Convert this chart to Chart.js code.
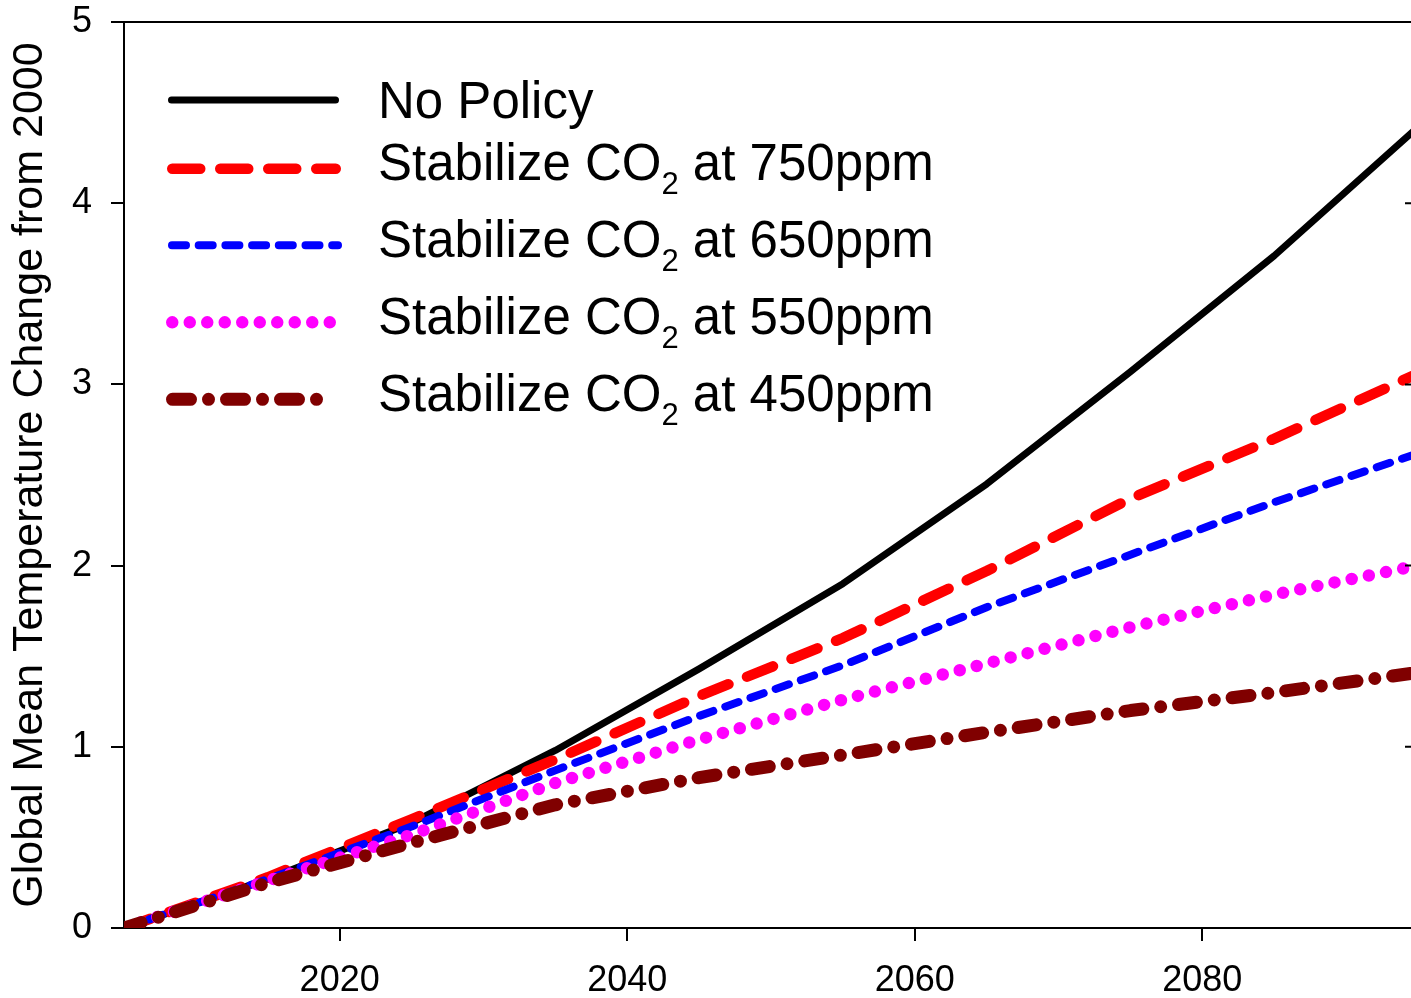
<!DOCTYPE html>
<html>
<head>
<meta charset="utf-8">
<title>Global Mean Temperature Change</title>
<script src="https://cdn.jsdelivr.net/npm/chart.js@4"></script>
<style>
  html, body { margin: 0; padding: 0; background: #fff; overflow: hidden; }
  #wrap { width: 1411px; height: 998px; overflow: hidden; position: relative; }
  canvas { display: block; }
</style>
</head>
<body>
<div id="wrap"><canvas id="c" width="1422" height="998"></canvas></div>
<script>
// Scenario years and projected warming (deg C relative to 2000)
const years      = [2005, 2015, 2025, 2035, 2045, 2055, 2065, 2075, 2085, 2095];
const noPolicy   = [0, 0.27, 0.58, 0.98, 1.43, 1.90, 2.45, 3.07, 3.71, 4.42];
const stab750    = [0, 0.28, 0.60, 0.93, 1.28, 1.60, 1.97, 2.37, 2.70, 3.06];
const stab650    = [0, 0.27, 0.56, 0.87, 1.17, 1.45, 1.77, 2.06, 2.35, 2.62];
const stab550    = [0, 0.26, 0.515, 0.80, 1.04, 1.26, 1.46, 1.66, 1.84, 2.00];
const stab450    = [0, 0.25, 0.47, 0.68, 0.83, 0.955, 1.08, 1.20, 1.30, 1.41];

const seriesNames = [
  'No Policy',
  'Stabilize CO₂ at 750ppm',
  'Stabilize CO₂ at 650ppm',
  'Stabilize CO₂ at 550ppm',
  'Stabilize CO₂ at 450ppm'
];
const xTickValues = [2020, 2040, 2060, 2080];
const yTickValues = [0, 1, 2, 3, 4, 5];
const yAxisTitle = 'Global Mean Temperature Change from 2000';

const FONT = "'Liberation Sans', Arial, Helvetica, sans-serif";
Chart.defaults.font.family = FONT;
Chart.defaults.color = '#000';

const styles = [
  { color: '#000000', width: 7,    dash: [] },
  { color: '#ff0000', width: 10.5, dash: [28, 20] },
  { color: '#0000ff', width: 8,    dash: [14, 12.7] },
  { color: '#ff00ff', width: 12.5, dash: [0, 17.5] },
  { color: '#800000', width: 13,   dash: [18, 18, 0, 18] }
];
const seriesValues = [noPolicy, stab750, stab650, stab550, stab450];

const datasets = seriesValues.map((vals, i) => ({
  label: seriesNames[i],
  data: years.map((y, k) => ({ x: y, y: vals[k] })),
  borderColor: styles[i].color,
  borderWidth: styles[i].width,
  borderDash: styles[i].dash,
  borderCapStyle: 'round',
  borderJoinStyle: 'round',
  pointRadius: 0,
  tension: 0,
  fill: false
})).reverse(); // first series painted last (on top)

// Frame (top + right) with inward ticks on the right, plus the legend block
const framePlugin = {
  id: 'frameAndLegend',
  afterDraw(chart) {
    const ctx = chart.ctx;
    const a = chart.chartArea;
    const ys = chart.scales.y;
    ctx.save();
    ctx.strokeStyle = '#000';
    ctx.lineWidth = 2;
    ctx.lineCap = 'butt';
    ctx.beginPath();
    ctx.moveTo(a.left - 1, a.top);
    ctx.lineTo(a.right, a.top);
    ctx.moveTo(a.right, a.top);
    ctx.lineTo(a.right, a.bottom);
    yTickValues.forEach(v => {
      const py = ys.getPixelForValue(v);
      ctx.moveTo(a.right, py);
      ctx.lineTo(a.right - 13, py);
    });
    ctx.stroke();
    ctx.restore();

    // Legend
    const rowsLine = [100, 168.7, 245.3, 322.3, 399.3];
    const rowsText = [118, 180, 257, 334, 411];
    const lineEnds = [[168, 339], [167, 341], [168, 342], [166, 338], [166, 324]];
    seriesNames.forEach((name, i) => {
      const st = styles[i];
      const [x0, x1] = lineEnds[i];
      ctx.save();
      ctx.strokeStyle = st.color;
      ctx.lineWidth = st.width;
      ctx.lineCap = 'round';
      ctx.setLineDash(st.dash);
      ctx.beginPath();
      ctx.moveTo(x0 + st.width / 2, rowsLine[i]);
      ctx.lineTo(x1 - st.width / 2, rowsLine[i]);
      ctx.stroke();
      ctx.restore();

      ctx.save();
      ctx.fillStyle = '#000';
      ctx.textBaseline = 'alphabetic';
      ctx.textAlign = 'left';
      ctx.translate(378, rowsText[i]);
      const parts = name.split('₂');
      let x = 0;
      parts.forEach((p, k) => {
        ctx.font = '51px ' + FONT;
        ctx.fillText(p, x, 0);
        x += ctx.measureText(p).width;
        if (k < parts.length - 1) {
          ctx.font = '31px ' + FONT;
          ctx.fillText('2', x, 14);
          x += ctx.measureText('2').width;
        }
      });
      ctx.restore();
    });
  }
};

new Chart(document.getElementById('c'), {
  type: 'line',
  data: { datasets },
  plugins: [framePlugin],
  options: {
    responsive: false,
    animation: false,
    events: [],
    layout: { padding: { top: 22, right: 4, bottom: 0, left: 0 } },
    plugins: { legend: { display: false }, tooltip: { enabled: false } },
    scales: {
      x: {
        type: 'linear',
        min: 2005,
        max: 2095,
        afterFit(scale) {
          scale.height = 70;
          scale.paddingLeft = 0;
          scale.paddingRight = 0;
        },
        afterBuildTicks(scale) { scale.ticks = xTickValues.map(v => ({ value: v })); },
        ticks: {
          includeBounds: false,
          font: { size: 36 },
          color: '#000',
          padding: 18,
          maxRotation: 0,
          callback: v => String(v)
        },
        grid: {
          display: true,
          drawOnChartArea: false,
          drawTicks: true,
          tickLength: 13,
          color: '#000',
          lineWidth: 2
        },
        border: { display: true, color: '#000', width: 2 }
      },
      y: {
        type: 'linear',
        min: 0,
        max: 5,
        afterFit(scale) {
          scale.width = 124;
          scale.paddingTop = 0;
          scale.paddingBottom = 0;
        },
        afterBuildTicks(scale) { scale.ticks = yTickValues.map(v => ({ value: v })); },
        ticks: {
          font: { size: 36 },
          color: '#000',
          padding: 19,
          callback: v => String(v)
        },
        title: {
          display: true,
          text: yAxisTitle,
          font: { size: 43 },
          color: '#000',
          padding: { top: 4, bottom: 0 }
        },
        grid: {
          display: true,
          drawOnChartArea: false,
          drawTicks: true,
          tickLength: 13,
          color: '#000',
          lineWidth: 2
        },
        border: { display: true, color: '#000', width: 2 }
      }
    }
  }
});
</script>
</body>
</html>
